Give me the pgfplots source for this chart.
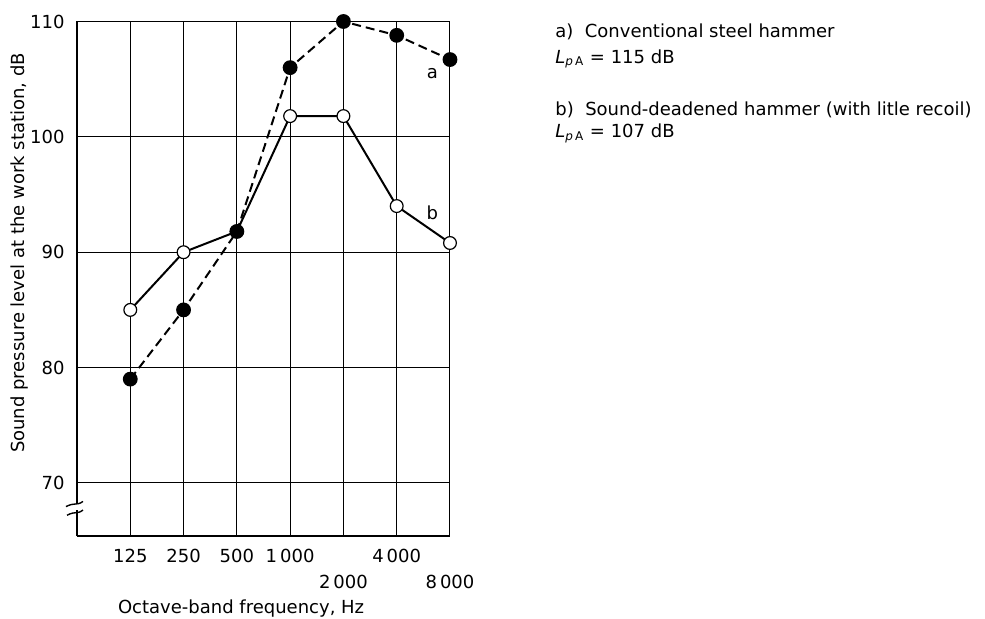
\documentclass[border=0pt]{standalone}
\usepackage{pgfplots}
\pgfplotsset{compat=1.18}
\usepackage{fontspec}
\setmainfont{DejaVu Sans}
\begin{document}
\fontsize{9}{13}\selectfont
\begin{tikzpicture}
\useasboundingbox (-38.5pt,-41pt) rectangle (454pt,268pt);
\begin{axis}[
  at={(0,0)}, anchor=south west,
  scale only axis,
  width=186.5pt, height=257.25pt,
  xmin=0, xmax=7, ymin=65.4, ymax=110,
  axis x line=bottom, axis y line=left,
  axis line style={line width=1pt, -},
  xtick={1,2,3,4,5,6,7},
  xticklabels={\strut 125,\strut 250,\strut 500,\strut 1\,000,\strut\\\strut 2\,000,\strut 4\,000,\strut\\\strut 8\,000},
  xticklabel style={align=center, anchor=north, yshift=-3pt, inner ysep=1pt, font=\fontsize{9}{13}\selectfont},
  ytick={70,80,90,100,110},
  yticklabel style={xshift=-3pt, font=\fontsize{9}{13}\selectfont},
  /pgf/number format/assume math mode=true,
  major tick length=0pt,
  grid=major,
  major grid style={line width=0.5pt, black},
  xlabel={Octave-band frequency, Hz},
  xlabel style={at={(axis description cs:0.44,-0.14)}, anchor=center, font=\fontsize{9}{13}\selectfont},
  ylabel={Sound pressure level at the work station, dB},
  ylabel style={at={(axis description cs:-0.153,0.55)}, anchor=center, font=\fontsize{9}{13}\selectfont},
  clip=false,
]
\addplot[black, line width=1pt, mark=*, mark size=3.2pt, mark options={fill=white, line width=0.6pt, solid}]
 coordinates {(1,85) (2,90) (3,91.8) (4,101.8) (5,101.8) (6,94) (7,90.8)};
\addplot[black, line width=1pt, dash pattern=on 4.5pt off 2.5pt, mark=*, mark size=3.2pt, mark options={fill=black, solid}]
 coordinates {(1,79) (2,85) (3,91.8) (4,106) (5,110) (6,108.8) (7,106.7)};
\node[font=\fontsize{9}{13}\selectfont] at (axis cs:6.67,105.5) {a};
\node[font=\fontsize{9}{13}\selectfont] at (axis cs:6.67,93.4) {b};
% axis break
\fill[white] ([xshift=-1.5pt]axis cs:0,67.62) rectangle ([xshift=1.5pt]axis cs:0,68.15);
\draw[line width=0.7pt] ([xshift=-5.5pt]axis cs:0,67.95) .. controls ([xshift=-1pt]axis cs:0,68.35) and ([xshift=0pt]axis cs:0,68.0) .. ([xshift=3pt]axis cs:0,68.4);
\draw[line width=0.7pt] ([xshift=-5pt]axis cs:0,67.2) .. controls ([xshift=-0.5pt]axis cs:0,67.6) and ([xshift=0pt]axis cs:0,67.25) .. ([xshift=3pt]axis cs:0,67.65);
% description
\node[anchor=base west, inner sep=0pt] at (axis description cs:1.2815,0.969) {a)\ \ Conventional steel hammer};
\node[anchor=base west, inner sep=0pt] at (axis description cs:1.2815,0.919) {\textit{L}\textsubscript{\textit{p}\,A} = 115 dB};
\node[anchor=base west, inner sep=0pt] at (axis description cs:1.2815,0.818) {b)\ \ Sound-deadened hammer (with litle recoil)};
\node[anchor=base west, inner sep=0pt] at (axis description cs:1.2815,0.7736) {\textit{L}\textsubscript{\textit{p}\,A} = 107 dB};
\end{axis}
\end{tikzpicture}
\end{document}
